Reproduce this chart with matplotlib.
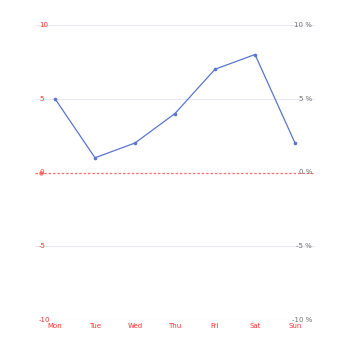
import numpy as np
import matplotlib.pyplot as plt
import matplotlib.transforms as mtransforms

# data
days = ['Mon', 'Tue', 'Wed', 'Thu', 'Fri', 'Sat', 'Sun']
values = [5, 1, 2, 4, 7, 8, 2]
left_ticks = [-10, -5, 0, 5, 10]
right_ticks = ['-10 %', '-5 %', '0 %', '5 %', '10 %']

fig = plt.figure(figsize=(3.5, 3.5), dpi=100)
ax = fig.add_axes([0.1, 30 / 350, 0.8, 295 / 350])

x = np.arange(len(days))
ax.set_xlim(-0.5, len(days) - 0.5)
ax.set_ylim(-10, 10)

# grid lines
for t in left_ticks:
    if t != 0:
        ax.axhline(t, color='#e8e9f2', lw=0.8, zorder=0)

# zero mark line (dashed red)
ax.axhline(0, color='#ff6a6a', lw=0.9, ls=(0, (2, 1.5)), zorder=1)
ax.plot([-0.36], [0], 'o', color='#ff8080', ms=2.2, zorder=2)

# series
ax.plot(x, values, color='#5a75cf', lw=0.9, marker='o', ms=1.6, zorder=3)

for s in ax.spines.values():
    s.set_visible(False)
ax.set_xticks([])
ax.set_yticks([])

trans = mtransforms.blended_transform_factory(ax.transAxes, ax.transData)
for t in left_ticks:
    ax.text(4 / 280, t, str(t), transform=trans, ha='left', va='center',
            fontsize=5, color='#ff3030')
for t, lab in zip(left_ticks, right_ticks):
    ax.text(277 / 280, t, lab, transform=trans, ha='right', va='center',
            fontsize=5, color='#6e6e6e')

xtrans = mtransforms.blended_transform_factory(ax.transData, ax.transAxes)
for xi, d in zip(x, days):
    ax.text(xi, -6 / 295, d, transform=xtrans, ha='center', va='center',
            fontsize=5, color='#ff3030')

fig.savefig('out.png', dpi=100)
